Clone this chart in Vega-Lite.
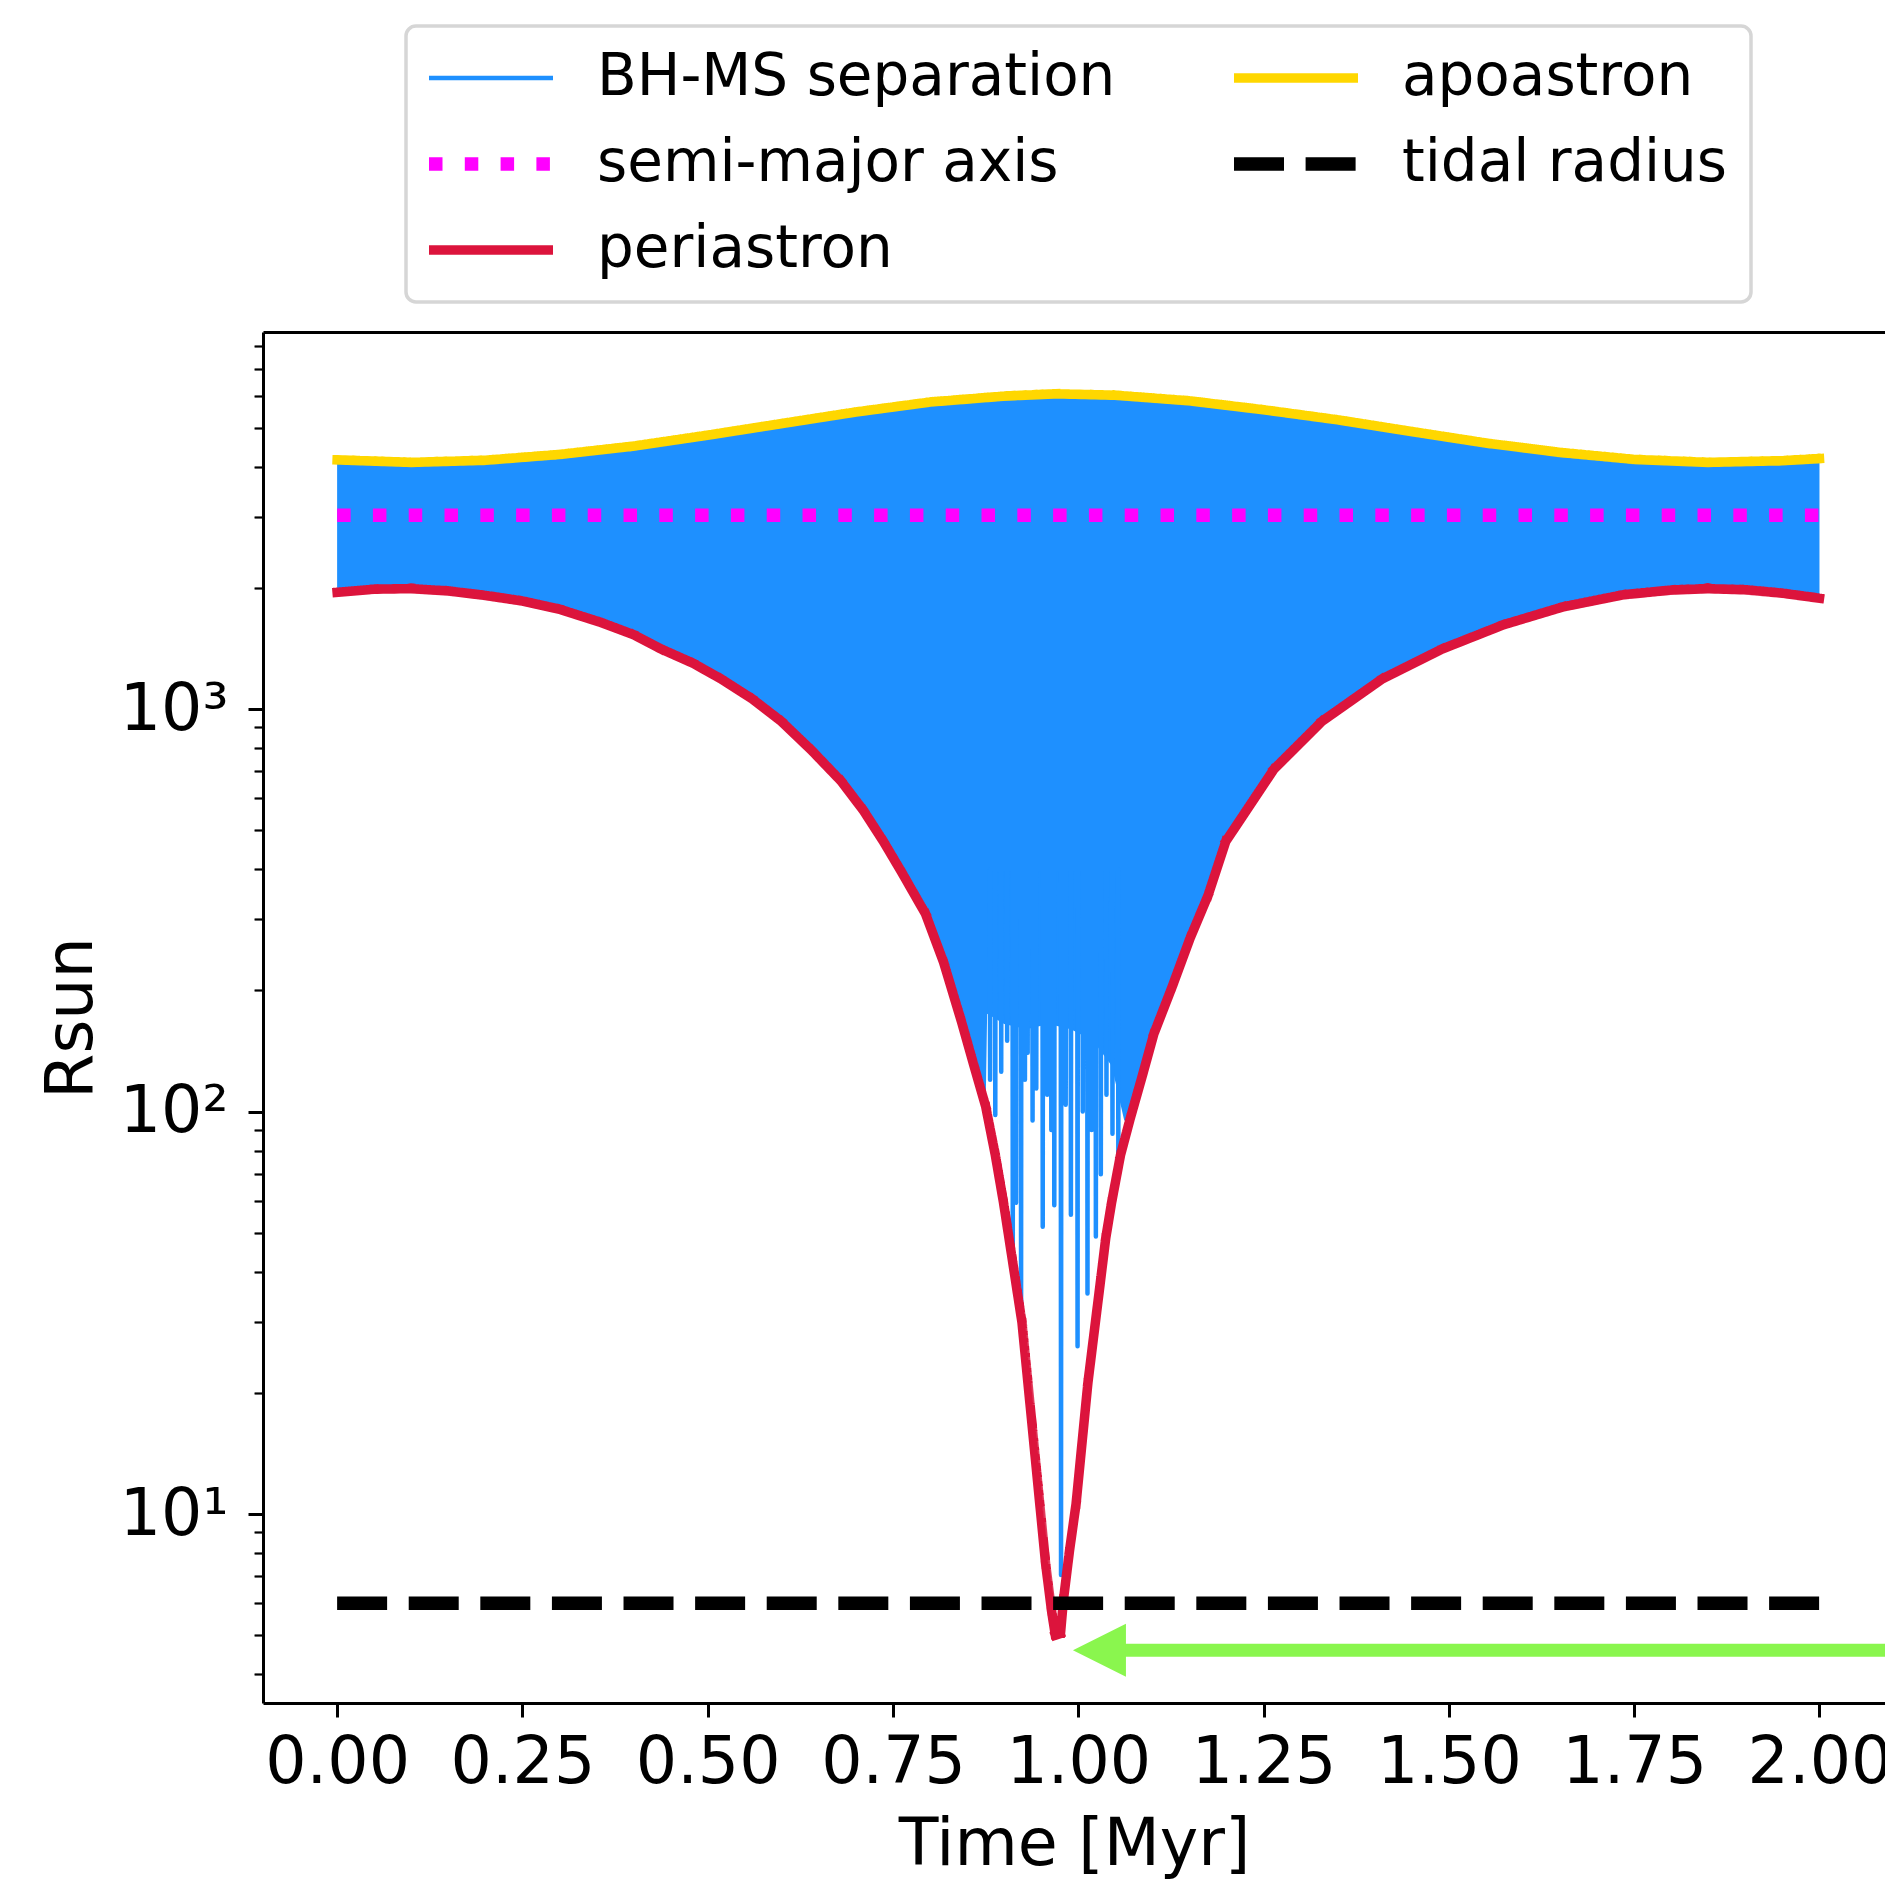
{
  "$schema": "https://vega.github.io/schema/vega-lite/v6.json",
  "autosize": {"type": "none"},
  "padding": {"left": 263, "top": 332, "right": 0, "bottom": 179},
  "width": 1622,
  "height": 1371,
  "background": "white",
  "datasets": {
    "band": [
      {"t": 0, "v": 4160, "lo": 1950}, {"t": 0.05, "v": 4120, "lo": 1985}, {"t": 0.1, "v": 4100, "lo": 1991},
      {"t": 0.15, "v": 4120, "lo": 1965}, {"t": 0.2, "v": 4150, "lo": 1915}, {"t": 0.25, "v": 4210, "lo": 1855},
      {"t": 0.3, "v": 4290, "lo": 1770}, {"t": 0.356, "v": 4390, "lo": 1641}, {"t": 0.4, "v": 4500, "lo": 1530},
      {"t": 0.437, "v": 4600, "lo": 1410}, {"t": 0.48, "v": 4730, "lo": 1300}, {"t": 0.518, "v": 4850, "lo": 1188},
      {"t": 0.56, "v": 4990, "lo": 1060}, {"t": 0.599, "v": 5120, "lo": 933}, {"t": 0.64, "v": 5260, "lo": 790},
      {"t": 0.68, "v": 5400, "lo": 662}, {"t": 0.71, "v": 5500, "lo": 560}, {"t": 0.737, "v": 5590, "lo": 469},
      {"t": 0.7614, "v": 5660, "lo": 394}, {"t": 0.7938, "v": 5770, "lo": 310}, {"t": 0.8182, "v": 5840, "lo": 235},
      {"t": 0.8425, "v": 5900, "lo": 167}, {"t": 0.8587, "v": 5930, "lo": 131}, {"t": 0.875, "v": 5955, "lo": 103},
      {"t": 0.877, "v": 5957, "lo": 175}, {"t": 0.9, "v": 5990, "lo": 165}, {"t": 0.93, "v": 6030, "lo": 160},
      {"t": 0.96, "v": 6060, "lo": 165}, {"t": 0.99, "v": 6065, "lo": 160}, {"t": 1.02, "v": 6040, "lo": 150},
      {"t": 1.045, "v": 6025, "lo": 130}, {"t": 1.062, "v": 6012, "lo": 95}, {"t": 1.07, "v": 6005, "lo": 96},
      {"t": 1.086, "v": 5975, "lo": 122}, {"t": 1.102, "v": 5945, "lo": 156}, {"t": 1.127, "v": 5890, "lo": 205},
      {"t": 1.151, "v": 5830, "lo": 270}, {"t": 1.175, "v": 5770, "lo": 344},
      {"t": 1.199, "v": 5700, "lo": 469}, {"t": 1.264, "v": 5500, "lo": 709}, {"t": 1.329, "v": 5290, "lo": 933},
      {"t": 1.41, "v": 5020, "lo": 1188}, {"t": 1.491, "v": 4760, "lo": 1410}, {"t": 1.573, "v": 4520, "lo": 1618},
      {"t": 1.654, "v": 4330, "lo": 1794}, {"t": 1.735, "v": 4190, "lo": 1922}, {"t": 1.8, "v": 4130, "lo": 1975},
      {"t": 1.849, "v": 4100, "lo": 1991}, {"t": 1.9, "v": 4110, "lo": 1978}, {"t": 1.95, "v": 4140, "lo": 1940},
      {"t": 2.0, "v": 4190, "lo": 1885}
    ],
    "sep": [
      {"t": 0.8806, "v": 400, "series": "BH-MS separation"}, {"t": 0.881, "v": 120, "series": "BH-MS separation"}, {"t": 0.8814, "v": 400, "series": "BH-MS separation"},
      {"t": 0.8876, "v": 400, "series": "BH-MS separation"}, {"t": 0.888, "v": 98, "series": "BH-MS separation"}, {"t": 0.8884, "v": 400, "series": "BH-MS separation"},
      {"t": 0.8956, "v": 400, "series": "BH-MS separation"}, {"t": 0.896, "v": 125.6, "series": "BH-MS separation"}, {"t": 0.8964, "v": 400, "series": "BH-MS separation"},
      {"t": 0.9036, "v": 400, "series": "BH-MS separation"}, {"t": 0.904, "v": 150, "series": "BH-MS separation"}, {"t": 0.9044, "v": 400, "series": "BH-MS separation"},
      {"t": 0.9112, "v": 400, "series": "BH-MS separation"}, {"t": 0.9116, "v": 46.4, "series": "BH-MS separation"}, {"t": 0.912, "v": 400, "series": "BH-MS separation"},
      {"t": 0.9156, "v": 400, "series": "BH-MS separation"}, {"t": 0.916, "v": 59.3, "series": "BH-MS separation"}, {"t": 0.9164, "v": 400, "series": "BH-MS separation"},
      {"t": 0.9224, "v": 400, "series": "BH-MS separation"}, {"t": 0.9228, "v": 33.4, "series": "BH-MS separation"}, {"t": 0.9232, "v": 400, "series": "BH-MS separation"},
      {"t": 0.9276, "v": 400, "series": "BH-MS separation"}, {"t": 0.928, "v": 120, "series": "BH-MS separation"}, {"t": 0.9284, "v": 400, "series": "BH-MS separation"},
      {"t": 0.9313, "v": 400, "series": "BH-MS separation"}, {"t": 0.9317, "v": 140, "series": "BH-MS separation"}, {"t": 0.9321, "v": 400, "series": "BH-MS separation"},
      {"t": 0.9379, "v": 400, "series": "BH-MS separation"}, {"t": 0.9383, "v": 95, "series": "BH-MS separation"}, {"t": 0.9387, "v": 400, "series": "BH-MS separation"},
      {"t": 0.9429, "v": 400, "series": "BH-MS separation"}, {"t": 0.9433, "v": 114, "series": "BH-MS separation"}, {"t": 0.9437, "v": 400, "series": "BH-MS separation"},
      {"t": 0.9516, "v": 400, "series": "BH-MS separation"}, {"t": 0.952, "v": 51.7, "series": "BH-MS separation"}, {"t": 0.9524, "v": 400, "series": "BH-MS separation"},
      {"t": 0.9576, "v": 400, "series": "BH-MS separation"}, {"t": 0.958, "v": 110, "series": "BH-MS separation"}, {"t": 0.9584, "v": 400, "series": "BH-MS separation"},
      {"t": 0.9632, "v": 400, "series": "BH-MS separation"}, {"t": 0.9636, "v": 90, "series": "BH-MS separation"}, {"t": 0.964, "v": 400, "series": "BH-MS separation"},
      {"t": 0.9672, "v": 400, "series": "BH-MS separation"}, {"t": 0.9676, "v": 58.5, "series": "BH-MS separation"}, {"t": 0.968, "v": 400, "series": "BH-MS separation"},
      {"t": 0.9763, "v": 400, "series": "BH-MS separation"}, {"t": 0.9767, "v": 7.05, "series": "BH-MS separation"}, {"t": 0.9771, "v": 400, "series": "BH-MS separation"},
      {"t": 0.9826, "v": 400, "series": "BH-MS separation"}, {"t": 0.983, "v": 104, "series": "BH-MS separation"}, {"t": 0.9834, "v": 400, "series": "BH-MS separation"},
      {"t": 0.9896, "v": 400, "series": "BH-MS separation"}, {"t": 0.99, "v": 55.4, "series": "BH-MS separation"}, {"t": 0.9904, "v": 400, "series": "BH-MS separation"},
      {"t": 0.9986, "v": 400, "series": "BH-MS separation"}, {"t": 0.999, "v": 26.1, "series": "BH-MS separation"}, {"t": 0.9994, "v": 400, "series": "BH-MS separation"},
      {"t": 1.0056, "v": 400, "series": "BH-MS separation"}, {"t": 1.006, "v": 100, "series": "BH-MS separation"}, {"t": 1.0064, "v": 400, "series": "BH-MS separation"},
      {"t": 1.012, "v": 400, "series": "BH-MS separation"}, {"t": 1.0124, "v": 35.3, "series": "BH-MS separation"}, {"t": 1.0128, "v": 400, "series": "BH-MS separation"},
      {"t": 1.0176, "v": 400, "series": "BH-MS separation"}, {"t": 1.018, "v": 90, "series": "BH-MS separation"}, {"t": 1.0184, "v": 400, "series": "BH-MS separation"},
      {"t": 1.0233, "v": 400, "series": "BH-MS separation"}, {"t": 1.0237, "v": 48.9, "series": "BH-MS separation"}, {"t": 1.0241, "v": 400, "series": "BH-MS separation"},
      {"t": 1.03, "v": 400, "series": "BH-MS separation"}, {"t": 1.0304, "v": 69.8, "series": "BH-MS separation"}, {"t": 1.0308, "v": 400, "series": "BH-MS separation"},
      {"t": 1.0376, "v": 400, "series": "BH-MS separation"}, {"t": 1.038, "v": 110, "series": "BH-MS separation"}, {"t": 1.0384, "v": 400, "series": "BH-MS separation"},
      {"t": 1.0457, "v": 400, "series": "BH-MS separation"}, {"t": 1.0461, "v": 88.1, "series": "BH-MS separation"}, {"t": 1.0465, "v": 400, "series": "BH-MS separation"},
      {"t": 1.0536, "v": 400, "series": "BH-MS separation"}, {"t": 1.054, "v": 77.8, "series": "BH-MS separation"}, {"t": 1.0544, "v": 400, "series": "BH-MS separation"}
    ],
    "semi": [
      {"t": 0, "v": 3030, "series": "semi-major axis"}, {"t": 2.0, "v": 3030, "series": "semi-major axis"}
    ],
    "peri": [
      {"t": 0, "v": 1950}, {"t": 0.05, "v": 1985}, {"t": 0.1, "v": 1991}, {"t": 0.15, "v": 1965}, {"t": 0.2, "v": 1915},
      {"t": 0.25, "v": 1855}, {"t": 0.3, "v": 1770}, {"t": 0.356, "v": 1641}, {"t": 0.4, "v": 1530}, {"t": 0.437, "v": 1410},
      {"t": 0.48, "v": 1300}, {"t": 0.518, "v": 1188}, {"t": 0.56, "v": 1060}, {"t": 0.599, "v": 933}, {"t": 0.64, "v": 790},
      {"t": 0.68, "v": 662}, {"t": 0.71, "v": 560}, {"t": 0.737, "v": 469}, {"t": 0.7614, "v": 394}, {"t": 0.7938, "v": 310},
      {"t": 0.8182, "v": 235}, {"t": 0.8425, "v": 167}, {"t": 0.8587, "v": 131}, {"t": 0.875, "v": 103}, {"t": 0.888, "v": 78},
      {"t": 0.899, "v": 59.5}, {"t": 0.9115, "v": 42.2}, {"t": 0.924, "v": 29.9}, {"t": 0.932, "v": 21.2}, {"t": 0.94, "v": 15.0},
      {"t": 0.948, "v": 10.6}, {"t": 0.956, "v": 7.5}, {"t": 0.964, "v": 5.73}, {"t": 0.969, "v": 5.0}, {"t": 0.976, "v": 5.05},
      {"t": 0.98, "v": 6.13}, {"t": 0.988, "v": 8.07}, {"t": 0.997, "v": 10.6}, {"t": 1.005, "v": 15.0}, {"t": 1.013, "v": 21.2},
      {"t": 1.021, "v": 27.9}, {"t": 1.029, "v": 36.7}, {"t": 1.037, "v": 48.4}, {"t": 1.045, "v": 59.5}, {"t": 1.057, "v": 78},
      {"t": 1.07, "v": 96}, {"t": 1.086, "v": 122}, {"t": 1.102, "v": 156}, {"t": 1.127, "v": 205}, {"t": 1.151, "v": 270},
      {"t": 1.175, "v": 344}, {"t": 1.199, "v": 469}, {"t": 1.264, "v": 709},
      {"t": 1.329, "v": 933}, {"t": 1.41, "v": 1188}, {"t": 1.491, "v": 1410}, {"t": 1.573, "v": 1618}, {"t": 1.654, "v": 1794},
      {"t": 1.735, "v": 1922}, {"t": 1.8, "v": 1975}, {"t": 1.849, "v": 1991}, {"t": 1.9, "v": 1978}, {"t": 1.95, "v": 1940},
      {"t": 2.0, "v": 1885}
    ],
    "apo": [
      {"t": 0, "v": 4160}, {"t": 0.1, "v": 4100}, {"t": 0.2, "v": 4150}, {"t": 0.3, "v": 4290}, {"t": 0.4, "v": 4500},
      {"t": 0.5, "v": 4790}, {"t": 0.6, "v": 5120}, {"t": 0.7, "v": 5470}, {"t": 0.8, "v": 5790}, {"t": 0.9, "v": 5990},
      {"t": 0.97, "v": 6070}, {"t": 1.05, "v": 6020}, {"t": 1.15, "v": 5830}, {"t": 1.25, "v": 5540}, {"t": 1.35, "v": 5230},
      {"t": 1.45, "v": 4890}, {"t": 1.55, "v": 4580}, {"t": 1.65, "v": 4340}, {"t": 1.75, "v": 4170}, {"t": 1.85, "v": 4100},
      {"t": 1.95, "v": 4140}, {"t": 2.0, "v": 4190}
    ],
    "tidal": [
      {"t": 0, "v": 6.0, "series": "tidal radius"}, {"t": 2.0, "v": 6.0, "series": "tidal radius"}
    ],
    "arrow": [{"t": 1.055, "t2": 2.0884, "v": 4.59}],
    "head": [{"t": 1.0285, "v": 4.59}]
  },
  "layer": [
    {
      "data": {"name": "band"},
      "mark": {"type": "area", "color": "#1E90FF", "opacity": 1},
      "encoding": {
        "x": {
          "field": "t", "type": "quantitative",
          "scale": {"domain": [-0.1, 2.0884], "nice": false, "zero": false},
          "axis": {
            "orient": "bottom",
            "values": [0, 0.25, 0.5, 0.75, 1.0, 1.25, 1.5, 1.75, 2.0],
            "format": ".2f",
            "title": "Time [Myr]",
            "labelFontSize": 65, "titleFontSize": 65,
            "labelFont": "DejaVu Sans", "titleFont": "DejaVu Sans",
            "titleFontWeight": "normal",
            "tickSize": 14, "tickWidth": 3, "tickColor": "black",
            "domainColor": "black", "domainWidth": 3,
            "labelColor": "black", "titleColor": "black",
            "labelPadding": 14, "titlePadding": 18,
            "grid": false, "labelFlush": false, "labelOverlap": false
          }
        },
        "y": {
          "field": "v", "type": "quantitative",
          "scale": {"type": "log", "domain": [3.392, 8644], "nice": false},
          "axis": {
            "title": "Rsun",
            "values": [4, 5, 6, 7, 8, 9, 10, 20, 30, 40, 50, 60, 70, 80, 90, 100, 200, 300, 400, 500, 600, 700, 800, 900, 1000, 2000, 3000, 4000, 5000, 6000, 7000, 8000],
            "labelExpr": "datum.value == 10 ? '10¹' : datum.value == 100 ? '10²' : datum.value == 1000 ? '10³' : ''",
            "tickSize": {"condition": {"test": "datum.value == 10 || datum.value == 100 || datum.value == 1000", "value": 15}, "value": 9},
            "tickWidth": {"condition": {"test": "datum.value == 10 || datum.value == 100 || datum.value == 1000", "value": 3}, "value": 2.2},
            "labelFontSize": 65, "titleFontSize": 65,
            "labelFont": "DejaVu Sans", "titleFont": "DejaVu Sans",
            "titleFontWeight": "normal",
            "tickColor": "black", "domainColor": "black", "domainWidth": 3,
            "labelColor": "black", "titleColor": "black",
            "labelPadding": 20, "titlePadding": 14,
            "grid": false, "labelOverlap": false
          }
        },
        "y2": {"field": "lo"}
      }
    },
    {
      "data": {"name": "sep"},
      "mark": {"type": "line", "strokeWidth": 4.5, "strokeJoin": "round", "strokeCap": "butt"},
      "encoding": {
        "x": {"field": "t", "type": "quantitative", "axis": {"orient": "top", "labels": false, "ticks": false, "title": null, "domainColor": "black", "domainWidth": 3, "grid": false}},
        "y": {"field": "v", "type": "quantitative"},
        "color": {
          "field": "series", "type": "nominal",
          "scale": {"domain": ["BH-MS separation", "semi-major axis", "periastron", "apoastron", "tidal radius"], "range": ["#1E90FF", "#FF00FF", "#DC143C", "#FFD700", "#000000"]},
          "legend": {
            "title": null, "orient": "none", "legendX": 143, "legendY": -306, "columns": 2,
            "symbolType": "stroke",
            "encode": {
              "symbols": {"update": {"strokeWidth": {"signal": "datum.value === 'semi-major axis' || datum.value === 'tidal radius' ? 13.5 : (datum.value === 'BH-MS separation' ? 4.5 : 9.5)"}}},
              "legend": {"update": {"strokeWidth": {"value": 3.5}}}
            }
          }
        },
        "strokeDash": {
          "field": "series", "type": "nominal",
          "scale": {"domain": ["BH-MS separation", "semi-major axis", "periastron", "apoastron", "tidal radius"], "range": [[1, 0], [13.5, 22.3], [1, 0], [1, 0], [50, 21.6]]},
          "legend": {
            "title": null, "orient": "none", "legendX": 143, "legendY": -306, "columns": 2,
            "symbolType": "stroke",
            "encode": {
              "symbols": {"update": {"strokeWidth": {"signal": "datum.value === 'semi-major axis' || datum.value === 'tidal radius' ? 13.5 : (datum.value === 'BH-MS separation' ? 4.5 : 9.5)"}}},
              "legend": {"update": {"strokeWidth": {"value": 3.5}}}
            }
          }
        }
      }
    },
    {
      "data": {"name": "semi"},
      "mark": {"type": "line", "strokeWidth": 13.5, "strokeCap": "butt"},
      "encoding": {
        "x": {"field": "t", "type": "quantitative", "axis": null},
        "y": {"field": "v", "type": "quantitative"},
        "color": {"field": "series", "type": "nominal"},
        "strokeDash": {"field": "series", "type": "nominal"}
      }
    },
    {
      "data": {"name": "peri"},
      "mark": {"type": "line", "strokeWidth": 9.5, "strokeCap": "square", "strokeJoin": "round"},
      "encoding": {
        "x": {"field": "t", "type": "quantitative", "axis": null},
        "y": {"field": "v", "type": "quantitative"},
        "color": {"datum": "periastron"},
        "strokeDash": {"datum": "periastron"}
      }
    },
    {
      "data": {"name": "apo"},
      "mark": {"type": "line", "strokeWidth": 9.5, "strokeCap": "square", "strokeJoin": "round"},
      "encoding": {
        "x": {"field": "t", "type": "quantitative", "axis": null},
        "y": {"field": "v", "type": "quantitative"},
        "color": {"datum": "apoastron"},
        "strokeDash": {"datum": "apoastron"}
      }
    },
    {
      "data": {"name": "tidal"},
      "mark": {"type": "line", "strokeWidth": 13.5, "strokeCap": "butt"},
      "encoding": {
        "x": {"field": "t", "type": "quantitative", "axis": null},
        "y": {"field": "v", "type": "quantitative"},
        "color": {"field": "series", "type": "nominal"},
        "strokeDash": {"field": "series", "type": "nominal"}
      }
    },
    {
      "data": {"name": "arrow"},
      "mark": {"type": "rule", "color": "#8AF64E", "strokeWidth": 13, "strokeCap": "butt"},
      "encoding": {
        "x": {"field": "t", "type": "quantitative", "axis": null},
        "x2": {"field": "t2"},
        "y": {"field": "v", "type": "quantitative"}
      }
    },
    {
      "data": {"name": "head"},
      "mark": {"type": "point", "shape": "M-1,0L1,-1L1,1Z", "size": 2809, "filled": true, "color": "#8AF64E", "opacity": 1, "strokeWidth": 0},
      "encoding": {
        "x": {"field": "t", "type": "quantitative", "axis": null},
        "y": {"field": "v", "type": "quantitative"}
      }
    }
  ],
  "resolve": {"axis": {"x": "independent"}},
  "config": {
    "font": "DejaVu Sans",
    "view": {"stroke": null},
    "axis": {"grid": false},
    "legend": {
      "labelFont": "DejaVu Sans", "labelFontSize": 58, "labelColor": "black", "labelLimit": 2000,
      "symbolSize": 15376, "symbolOffset": 33, "labelOffset": 77, "columnPadding": 91, "rowPadding": 28,
      "padding": 23, "cornerRadius": 10, "strokeColor": "#d6d6d6", "fillColor": "white"
    }
  }
}
